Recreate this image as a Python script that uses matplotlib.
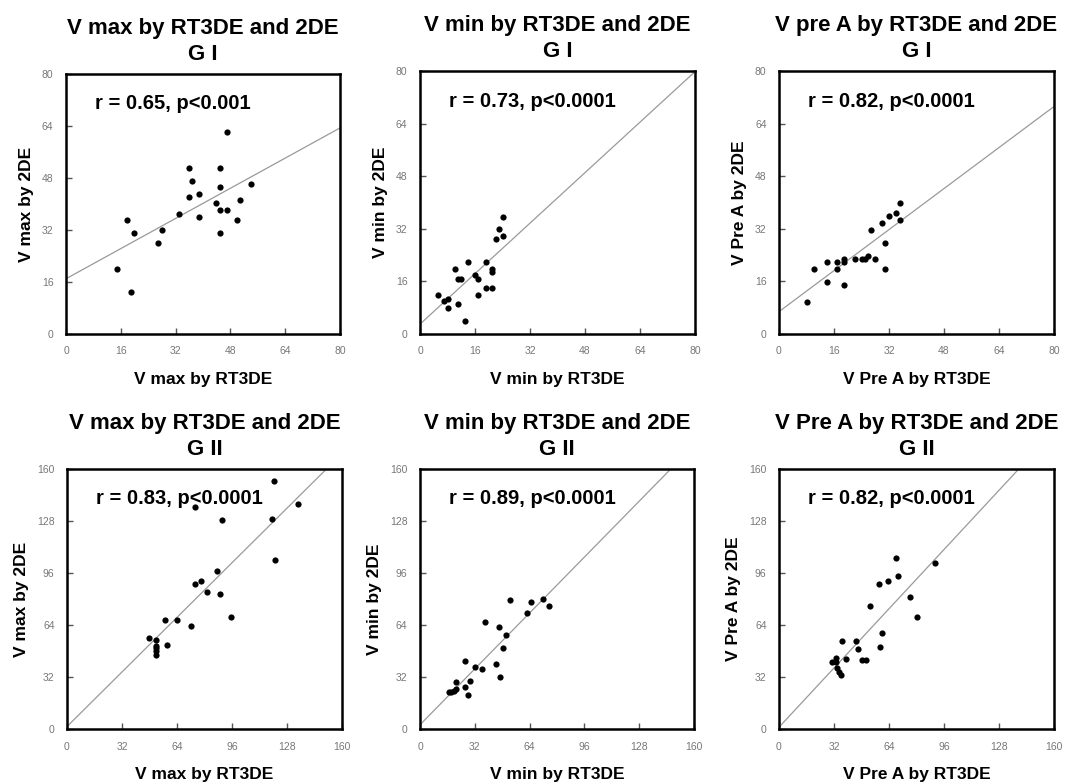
import numpy as np
import matplotlib
matplotlib.use('Agg')
import matplotlib.pyplot as plt

plt.rcParams['font.family'] = ['Liberation Sans', 'DejaVu Sans']

# ---- data ----
# G I, V max
vmax_g1_rt3de = [14.8, 18.9, 17.7, 19.8, 26.9, 27.9, 32.9, 35.9, 36.9, 35.8, 38.9,
                 38.9, 43.9, 44.9, 44.9, 44.9, 47.0, 44.9, 46.9, 50.0, 50.9, 54.0]
vmax_g1_2de = [20.0, 12.8, 35.1, 31.1, 28.1, 32.1, 37.0, 51.2, 47.2, 42.2, 43.2,
               36.0, 40.2, 51.2, 45.1, 38.2, 38.2, 31.1, 62.3, 35.1, 41.1, 46.1]
# G I, V min
vmin_g1_rt3de = [5.1, 7.1, 8.1, 8.1, 10.1, 11.1, 11.1, 12.0, 14.1, 13.1, 16.0,
                 17.0, 17.0, 19.1, 19.1, 21.0, 21.0, 21.0, 22.0, 23.1, 24.2, 24.2]
vmin_g1_2de = [11.9, 10.0, 10.6, 7.9, 19.9, 9.0, 16.8, 16.8, 21.8, 4.0, 17.8,
               16.8, 11.9, 21.8, 13.9, 13.9, 19.9, 18.9, 28.8, 31.8, 29.7, 35.7]
# G I, V pre A
vprea_g1_rt3de = [8.1, 10.2, 14.1, 14.1, 17.0, 17.0, 19.0, 19.0, 19.0, 22.0, 24.0,
                  25.0, 25.9, 26.9, 27.9, 30.0, 30.9, 30.9, 31.9, 33.9, 35.1, 35.1]
vprea_g1_2de = [9.8, 19.8, 21.8, 15.8, 21.8, 19.8, 22.7, 21.8, 14.8, 22.7, 22.7,
                22.7, 23.7, 31.6, 22.7, 33.8, 27.7, 19.8, 35.8, 36.8, 39.8, 34.8]
# G II, V max
vmax_g2_rt3de = [47.7, 52.0, 52.0, 52.0, 52.0, 52.0, 58.2, 57.0, 64.0, 72.1, 74.3,
                 78.2, 81.5, 87.3, 89.2, 90.2, 95.2, 74.7, 119.1, 120.2, 121.0, 134.4]
vmax_g2_2de = [56.1, 54.9, 50.8, 49.8, 47.7, 45.5, 51.8, 67.2, 67.2, 63.1, 89.1,
               91.2, 84.2, 97.3, 83.2, 128.5, 69.2, 136.7, 129.5, 152.6, 104.3, 138.5]
# G II, V min
vmin_g2_rt3de = [16.7, 18.3, 19.8, 21.0, 21.0, 26.0, 26.0, 28.2, 29.2, 32.3, 36.2,
                 38.1, 44.1, 46.3, 47.0, 48.2, 50.2, 52.3, 62.2, 65.1, 71.9, 75.2]
vmin_g2_2de = [22.9, 22.9, 23.4, 24.8, 28.9, 25.8, 42.0, 20.9, 29.7, 38.1, 36.9,
               66.0, 40.0, 62.9, 32.0, 50.0, 58.0, 79.3, 71.1, 78.1, 80.1, 76.0]
# G II, V pre A
vprea_g2_rt3de = [31.0, 33.0, 33.0, 33.7, 34.9, 36.1, 36.9, 38.8, 45.0, 46.2, 48.5,
                  50.8, 53.1, 58.0, 59.0, 59.9, 63.4, 67.9, 69.0, 76.0, 80.1, 91.0]
vprea_g2_2de = [41.2, 44.0, 41.0, 37.3, 35.2, 33.0, 54.1, 43.2, 54.1, 49.2, 42.2,
                42.2, 76.0, 89.1, 50.2, 59.2, 91.2, 105.1, 94.3, 81.1, 69.2, 102.4]

# regression lines as drawn (intercept, slope)
fit_lines = [(17.0, 0.58), (3.0, 0.96), (6.8, 0.78),
             (1.5, 1.05), (2.6, 1.075), (1.1, 1.139)]

titles = ['V max by RT3DE and 2DE\nG I', 'V min by RT3DE and 2DE\nG I',
          'V pre A by RT3DE and 2DE\nG I', 'V max by RT3DE and 2DE\nG II',
          'V min by RT3DE and 2DE\nG II', 'V Pre A by RT3DE and 2DE\nG II']
xlabels = ['V max by RT3DE', 'V min by RT3DE', 'V Pre A by RT3DE',
           'V max by RT3DE', 'V min by RT3DE', 'V Pre A by RT3DE']
ylabels = ['V max by 2DE', 'V min by 2DE', 'V Pre A by 2DE',
           'V max by 2DE', 'V min by 2DE', 'V Pre A by 2DE']
notes = ['r = 0.65, p<0.001', 'r = 0.73, p<0.0001', 'r = 0.82, p<0.0001',
         'r = 0.83, p<0.0001', 'r = 0.89, p<0.0001', 'r = 0.82, p<0.0001']
ticks_g1 = [0, 16, 32, 48, 64, 80]
ticks_g2 = [0, 32, 64, 96, 128, 160]

xs = [vmax_g1_rt3de, vmin_g1_rt3de, vprea_g1_rt3de,
      vmax_g2_rt3de, vmin_g2_rt3de, vprea_g2_rt3de]
ys = [vmax_g1_2de, vmin_g1_2de, vprea_g1_2de,
      vmax_g2_2de, vmin_g2_2de, vprea_g2_2de]

# axes boxes in figure pixels (left, top, right, bottom)
W, H = 1080, 783
boxes = [(66, 74, 340, 334), (420, 71, 695, 334), (779, 71, 1054, 334),
         (67, 469, 342, 729), (420, 469, 694, 729), (779, 469, 1054, 729)]

fig = plt.figure(figsize=(10.8, 7.83), dpi=100)

for i in range(6):
    l, t, r, b = boxes[i]
    ax = fig.add_axes([l / W, 1 - b / H, (r - l) / W, (b - t) / H])
    ticks = ticks_g1 if i < 3 else ticks_g2
    lim = ticks[-1]

    ax.scatter(xs[i], ys[i], s=20, color='black', zorder=3, linewidths=0)
    a, k = fit_lines[i]
    xx = np.array([0, lim])
    ax.plot(xx, a + k * xx, color='#9a9a9a', lw=0.9, zorder=2)

    ax.set_xlim(0, lim)
    ax.set_ylim(0, lim)
    ax.set_xticks(ticks)
    ax.set_yticks(ticks)
    ax.tick_params(direction='in', length=4, width=1, labelsize=7.5,
                   labelcolor='#777777', color='#555555', pad=9)
    for sp in ax.spines.values():
        sp.set_linewidth(1.8)

    ax.set_title(titles[i], fontsize=16, fontweight='bold', linespacing=1.35,
                 pad=10)
    ax.set_xlabel(xlabels[i], fontsize=12.5, fontweight='bold', labelpad=11)
    ax.set_ylabel(ylabels[i], fontsize=12.5, fontweight='bold', labelpad=6)
    ax.text(0.105, 0.885, notes[i], transform=ax.transAxes, ha='left',
            va='center', fontsize=14.5, fontweight='bold', zorder=4)

fig.savefig('out.png', dpi=100)
